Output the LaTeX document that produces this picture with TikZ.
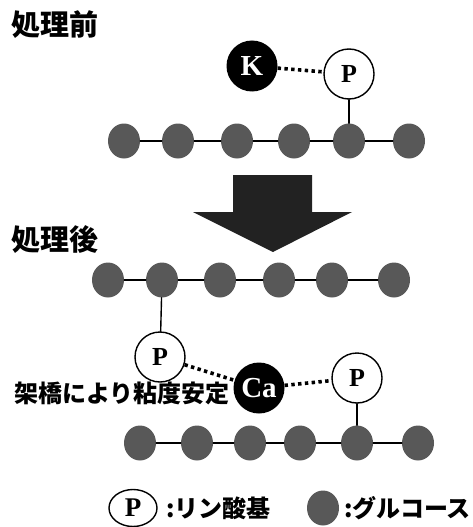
\documentclass[tikz,border=0pt]{standalone}
\usepackage{fontspec}
\setmainfont{Liberation Serif}
\newfontfamily\jpfont{Noto Sans CJK JP}
\newfontfamily\jpheavy{Noto Sans CJK JP Black}
\usetikzlibrary{shapes.geometric}

\definecolor{glucosegray}{HTML}{585858}
\definecolor{arrowdark}{HTML}{222222}

\tikzset{
  glc/.style={ellipse,fill=glucosegray,minimum width=32pt,minimum height=35pt,inner sep=0pt},
  phos/.style={circle,draw,line width=1.4pt,fill=white,minimum size=50pt,inner sep=0pt,
    font=\fontsize{26}{26}\selectfont\bfseries},
  ion/.style={circle,fill=black,text=white,minimum size=51pt,inner sep=0pt,
    font=\fontsize{29}{29}\selectfont\bfseries},
  bond/.style={line width=1.4pt},
  ionic/.style={line width=3.6pt,line cap=butt,dash pattern=on 3.4pt off 3.4pt},
  heading/.style={anchor=west,inner sep=0pt,font=\jpheavy\fontsize{29}{29}\selectfont},
  jplabel/.style={anchor=west,inner sep=0pt,font=\jpfont\bfseries\fontsize{24}{24}\selectfont},
}

\begin{document}
\begin{tikzpicture}[x=1pt,y=-1pt,line cap=round,line join=round]
  \useasboundingbox (0,0) rectangle (473,527);

  % Before treatment: K bound to the phosphate group.
  \node[heading] (before) at (11,25) {処理前};
  \foreach \x [count=\i] in {124,178,237,294,349,409}
    \node[glc] (a\i) at (\x,141) {};
  \foreach \i/\j in {1/2,2/3,3/4,4/5,5/6}
    \draw[bond] (a\i) -- (a\j);
  \node[ion] (k) at (252,66) {K};
  \node[phos] (pa) at (349,74) {P};
  \draw[bond] (pa) -- (a5);
  \draw[ionic] (k) -- (pa);

  % Block arrow.
  \fill[arrowdark] (233,175) -- (312,175) -- (312,212) -- (352,212)
    -- (273,252) -- (193,212) -- (233,212) -- cycle;

  % After treatment: Ca bridges two chains.
  \node[heading] (after) at (11,240) {処理後};
  \foreach \x [count=\i] in {108,162,220,279,332,394}
    \node[glc] (b\i) at (\x,280) {};
  \foreach \x [count=\i] in {140,197,250,300,357,418}
    \node[glc] (c\i) at (\x,443) {};
  \foreach \i/\j in {1/2,2/3,3/4,4/5,5/6} {
    \draw[bond] (b\i) -- (b\j);
    \draw[bond] (c\i) -- (c\j);
  }
  \node[phos] (pb) at (160,357) {P};
  \node[phos] (pc) at (357,378) {P};
  \node[ion] (ca) at (259,388) {Ca};
  \draw[bond] (pb) -- (b2);
  \draw[bond] (pc) -- (c5);
  \draw[ionic] (pb) -- (ca);
  \draw[ionic] (ca) -- (pc);
  \node[jplabel] (note) at (14,393) {架橋により粘度安定};

  % Legend.
  \node[ellipse,draw,line width=1.4pt,minimum width=48pt,minimum height=37pt,inner sep=0pt,
    font=\fontsize{27}{27}\selectfont\bfseries] (legp) at (133,508) {P};
  \node[jplabel] (legptext) at (166,508) {:リン酸基};
  \node[glc] (legg) at (323,508) {};
  \node[jplabel] (leggtext) at (344,508) {:グルコース};
\end{tikzpicture}
\end{document}
